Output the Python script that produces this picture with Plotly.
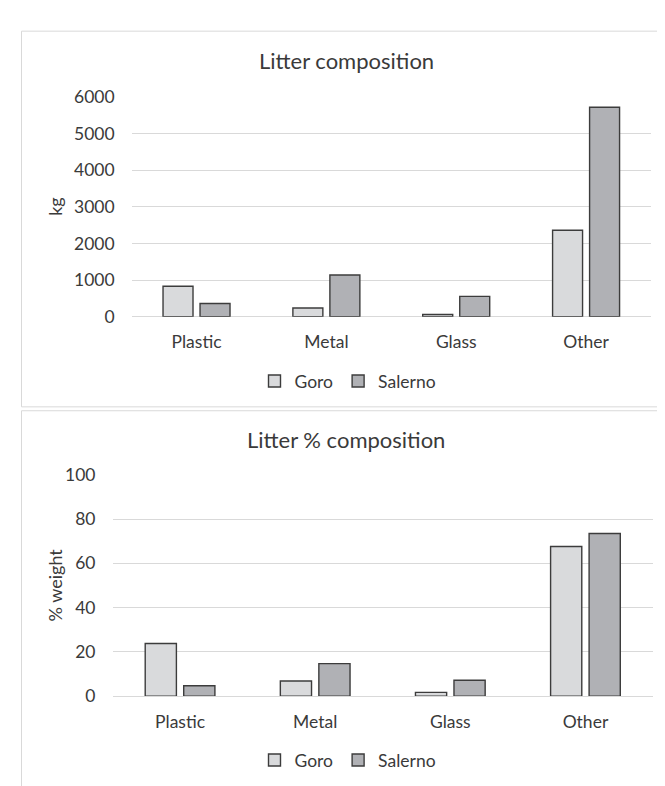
import plotly.graph_objects as go

categories = ["Plastic", "Metal", "Glass", "Other"]
goro_kg = [832, 239, 62, 2363]
salerno_kg = [363, 1142, 558, 5717]
goro_pct = [23.8, 6.8, 1.7, 67.6]
salerno_pct = [4.7, 14.7, 7.2, 73.5]
kg_ticks = [0, 1000, 2000, 3000, 4000, 5000, 6000]
pct_ticks = [0, 20, 40, 60, 80, 100]

W, H = 665, 786
FONT = "Lato"
TXT = "#3a3a3a"
GORO_C = "#d9dadc"
SAL_C = "#b0b1b5"
EDGE = "#3c3c3c"
GRID = "#d9d9d9"

def px(x):
    return x / W

def py(y):
    return 1 - y / H

fig = go.Figure()

def bars(y, name, color, xa, ya, legend):
    return go.Bar(x=categories, y=y, name=name, xaxis=xa, yaxis=ya, legend=legend,
                  marker=dict(color=color, line=dict(color=EDGE, width=1.4)))

fig.add_trace(bars(goro_kg, "Goro", GORO_C, "x", "y", "legend"))
fig.add_trace(bars(salerno_kg, "Salerno", SAL_C, "x", "y", "legend"))
fig.add_trace(bars(goro_pct, "Goro", GORO_C, "x2", "y2", "legend2"))
fig.add_trace(bars(salerno_pct, "Salerno", SAL_C, "x2", "y2", "legend2"))

axfont = dict(family=FONT, size=17.5, color=TXT)
common_x = dict(showgrid=False, zeroline=False, showline=False, ticks="",
                tickfont=axfont, ticklabelstandoff=13, fixedrange=True)
common_y = dict(showgrid=True, gridcolor=GRID, gridwidth=1, zeroline=True,
                zerolinecolor=GRID, zerolinewidth=1, showline=False, ticks="",
                tickfont=axfont, ticklabelstandoff=16, fixedrange=True)

legfont = dict(family=FONT, size=17.5, color=TXT)

fig.update_layout(
    width=W, height=H,
    margin=dict(l=0, r=0, t=0, b=0),
    paper_bgcolor="white", plot_bgcolor="white",
    barmode="group", bargap=0.43, bargroupgap=0.19,
    font=dict(family=FONT, color=TXT),
    xaxis=dict(domain=[px(123.6), px(643)], anchor="y", **common_x),
    yaxis=dict(domain=[py(306), py(80)], anchor="x", range=[0, 6000],
               tickvals=kg_ticks, **common_y),
    xaxis2=dict(domain=[px(104.5), px(645)], anchor="y2", **common_x),
    yaxis2=dict(domain=[py(695.7), py(468.3)], anchor="x2", range=[0, 100],
                tickvals=pct_ticks, **common_y),
    legend=dict(orientation="h", x=px(340), y=py(372), xanchor="center", yanchor="middle",
                font=legfont, bgcolor="rgba(0,0,0,0)", itemwidth=30),
    legend2=dict(orientation="h", x=px(340), y=py(761.5), xanchor="center", yanchor="middle",
                 font=legfont, bgcolor="rgba(0,0,0,0)", itemwidth=30),
    shapes=[
        dict(type="rect", xref="paper", yref="paper", x0=px(13.5), x1=px(662), y0=py(398.5), y1=py(12.5),
             line=dict(color="#d9d9d9", width=1), layer="below"),
        dict(type="rect", xref="paper", yref="paper", x0=px(13.5), x1=px(662), y0=py(792), y1=py(402.5),
             line=dict(color="#d9d9d9", width=1), layer="below"),
    ],
    annotations=[
        dict(text="Litter composition", x=px(338), y=py(43), xref="paper", yref="paper",
             showarrow=False, xanchor="center", yanchor="middle",
             font=dict(family=FONT, size=22, color=TXT)),
        dict(text="Litter % composition", x=px(338), y=py(432), xref="paper", yref="paper",
             showarrow=False, xanchor="center", yanchor="middle",
             font=dict(family=FONT, size=22, color=TXT)),
        dict(text="kg", x=px(47), y=py(193), xref="paper", yref="paper", textangle=-90,
             showarrow=False, xanchor="center", yanchor="middle",
             font=dict(family=FONT, size=18, color=TXT)),
        dict(text="% weight", x=px(47), y=py(582), xref="paper", yref="paper", textangle=-90,
             showarrow=False, xanchor="center", yanchor="middle",
             font=dict(family=FONT, size=18, color=TXT)),
    ],
)

fig.write_html("out.html")
